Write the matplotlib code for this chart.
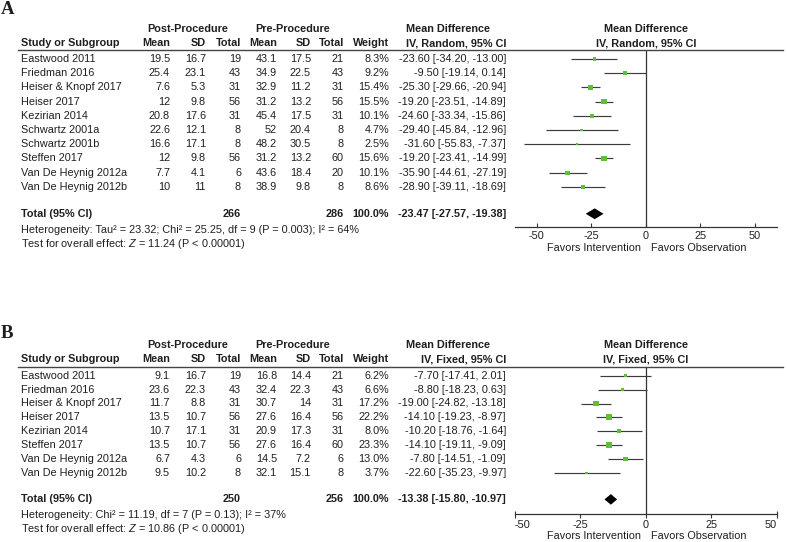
import matplotlib
matplotlib.use("Agg")
import matplotlib.pyplot as plt
from matplotlib.lines import Line2D

plt.rcParams["font.family"] = ["Liberation Sans", "DejaVu Sans"]
plt.rcParams["mathtext.fontset"] = "custom"
plt.rcParams["mathtext.rm"] = "Liberation Sans"
plt.rcParams["mathtext.it"] = "Liberation Sans:italic"
plt.rcParams["axes.unicode_minus"] = False

# Panel A data (random effects)
studies_a = ["Eastwood 2011", "Friedman 2016", "Heiser & Knopf 2017", "Heiser 2017",
             "Kezirian 2014", "Schwartz 2001a", "Schwartz 2001b", "Steffen 2017",
             "Van De Heynig 2012a", "Van De Heynig 2012b"]
post_mean_a = [19.5, 25.4, 7.6, 12, 20.8, 22.6, 16.6, 12, 7.7, 10]
post_sd_a = [16.7, 23.1, 5.3, 9.8, 17.6, 12.1, 17.1, 9.8, 4.1, 11]
post_n_a = [19, 43, 31, 56, 31, 8, 8, 56, 6, 8]
pre_mean_a = [43.1, 34.9, 32.9, 31.2, 45.4, 52, 48.2, 31.2, 43.6, 38.9]
pre_sd_a = [17.5, 22.5, 11.2, 13.2, 17.5, 20.4, 30.5, 13.2, 18.4, 9.8]
pre_n_a = [21, 43, 31, 56, 31, 8, 8, 60, 20, 8]
weight_a = [8.3, 9.2, 15.4, 15.5, 10.1, 4.7, 2.5, 15.6, 10.1, 8.6]
md_a = [-23.60, -9.50, -25.30, -19.20, -24.60, -29.40, -31.60, -19.20, -35.90, -28.90]
lo_a = [-34.20, -19.14, -29.66, -23.51, -33.34, -45.84, -55.83, -23.41, -44.61, -39.11]
hi_a = [-13.00, 0.14, -20.94, -14.89, -15.86, -12.96, -7.37, -14.99, -27.19, -18.69]
total_a = (266, 286, -23.47, -27.57, -19.38)
het_a = "Heterogeneity: Tau² = 23.32; Chi² = 25.25, df = 9 (P = 0.003); I² = 64%"
test_a = "Test for overall effect: $Z$ = 11.24 (P < 0.00001)"

# Panel B data (fixed effect)
studies_b = ["Eastwood 2011", "Friedman 2016", "Heiser & Knopf 2017", "Heiser 2017",
             "Kezirian 2014", "Steffen 2017", "Van De Heynig 2012a", "Van De Heynig 2012b"]
post_mean_b = [9.1, 23.6, 11.7, 13.5, 10.7, 13.5, 6.7, 9.5]
post_sd_b = [16.7, 22.3, 8.8, 10.7, 17.1, 10.7, 4.3, 10.2]
post_n_b = [19, 43, 31, 56, 31, 56, 6, 8]
pre_mean_b = [16.8, 32.4, 30.7, 27.6, 20.9, 27.6, 14.5, 32.1]
pre_sd_b = [14.4, 22.3, 14, 16.4, 17.3, 16.4, 7.2, 15.1]
pre_n_b = [21, 43, 31, 56, 31, 60, 6, 8]
weight_b = [6.2, 6.6, 17.2, 22.2, 8.0, 23.3, 13.0, 3.7]
md_b = [-7.70, -8.80, -19.00, -14.10, -10.20, -14.10, -7.80, -22.60]
lo_b = [-17.41, -18.23, -24.82, -19.23, -18.76, -19.11, -14.51, -35.23]
hi_b = [2.01, 0.63, -13.18, -8.97, -1.64, -9.09, -1.09, -9.97]
total_b = (250, 256, -13.38, -15.80, -10.97)
het_b = "Heterogeneity: Chi² = 11.19, df = 7 (P = 0.13); I² = 37%"
test_b = "Test for overall effect: $Z$ = 10.86 (P < 0.00001)"

ticks = [-50, -25, 0, 25, 50]

W, H = 787, 542
FS = 7.8
TXT = "#1f1f1f"
GREEN = "#5fbf36"
COLS = [170, 206, 241, 277, 311, 344, 389]
CI_RIGHT = 506

fig = plt.figure(figsize=(W / 100, H / 100), dpi=100)


def put(x, y, s, ha="left", bold=False, size=FS, family=None):
    kw = {}
    if family:
        kw["family"] = family
    fig.text(x / W, 1 - y / H, s, ha=ha, va="center", fontsize=size,
             fontweight="bold" if bold else "normal", color=TXT, **kw)


def num(v):
    return "%g" % v


def panel(letter, ly, h1, h2, line_y, y0, dy, axis_y, xlim, model,
          studies, post_mean, post_sd, post_n, pre_mean, pre_sd, pre_n,
          weight, md, lo, hi, total, het, test, fixed_style):
    put(1, ly, letter, bold=True, size=13.5, family="Liberation Serif")
    put(187.5, h1, "Post-Procedure", ha="center", bold=True)
    put(292.5, h1, "Pre-Procedure", ha="center", bold=True)
    put(447.5, h1, "Mean Difference", ha="center", bold=True)
    put(646, h1, "Mean Difference", ha="center", bold=True)
    put(21, h2, "Study or Subgroup", bold=True)
    for x, s in zip(COLS, ["Mean", "SD", "Total", "Mean", "SD", "Total", "Weight"]):
        put(x, h2, s, ha="right", bold=True)
    put(CI_RIGHT, h2, "IV, %s, 95%% CI" % model, ha="right", bold=True)
    put(646, h2, "IV, %s, 95%% CI" % model, ha="center", bold=True)
    fig.add_artist(Line2D([18 / W, 783 / W], [1 - line_y / H] * 2,
                          color="#444444", lw=1.0))

    n = len(studies)
    for i in range(n):
        y = y0 + dy * i
        put(21, y, studies[i])
        vals = [num(post_mean[i]), num(post_sd[i]), str(post_n[i]),
                num(pre_mean[i]), num(pre_sd[i]), str(pre_n[i]), "%.1f%%" % weight[i]]
        for x, s in zip(COLS, vals):
            put(x, y, s, ha="right")
        put(CI_RIGHT, y, "%.2f [%.2f, %.2f]" % (md[i], lo[i], hi[i]), ha="right")

    trow = n + 0.9
    ty = y0 + dy * trow
    put(21, ty, "Total (95% CI)", bold=True)
    put(COLS[2], ty, str(total[0]), ha="right", bold=True)
    put(COLS[5], ty, str(total[1]), ha="right", bold=True)
    put(COLS[6], ty, "100.0%", ha="right", bold=True)
    put(CI_RIGHT, ty, "%.2f [%.2f, %.2f]" % total[2:], ha="right", bold=True)
    put(21, ty + 16, het)
    put(21, ty + 30, test)

    # forest plot
    ax = fig.add_axes([515 / W, 1 - axis_y / H, (776.7 - 515) / W, (axis_y - line_y) / H])
    ax.patch.set_alpha(0)
    ax.set_xlim(*xlim)
    ax.set_ylim((axis_y - y0) / dy, (line_y - y0) / dy)
    rows = list(range(n))
    ax.hlines(rows, lo, hi, color="#3c3c3c", lw=0.85, zorder=2)
    sizes = [(max(1.3 * w ** 0.5, 2.6) / 1.389) ** 2 for w in weight]
    ax.scatter(md, rows, s=sizes, marker="s", color=GREEN, linewidths=0, zorder=3)
    ax.fill([total[3], total[2], total[4], total[2]],
            [trow, trow - 0.38, trow, trow + 0.38], color="black", lw=0, zorder=3)
    ax.axvline(0, color="#333333", lw=0.9, zorder=1)
    for s in ["top", "left", "right"]:
        ax.spines[s].set_visible(False)
    ax.spines["bottom"].set_color("#333333")
    ax.spines["bottom"].set_linewidth(0.9)
    ax.set_yticks([])
    ax.set_xticks(ticks)
    ax.set_xticklabels([str(t) for t in ticks])
    if fixed_style:
        ax.tick_params(axis="x", direction="out", length=3, width=0.8,
                       color="#333333", labelsize=FS, labelcolor=TXT, pad=0.8)
        ax.xaxis.remove_overlapping_locs = False
        ax.set_xticks([ticks[0], ticks[-1]], minor=True)
        ax.tick_params(axis="x", which="minor", direction="in", length=2.5,
                       width=0.8, color="#333333")
        labels = ax.get_xticklabels()
        labels[0].set_ha("left")
        labels[-1].set_ha("right")
    else:
        ax.tick_params(axis="x", direction="in", length=3, width=0.8,
                       color="#333333", labelsize=FS, labelcolor=TXT, pad=2.5)
    fy = axis_y + 20.5 if not fixed_style else axis_y + 22
    put(640.7, fy, "Favors Intervention", ha="right")
    put(650.7, fy, "Favors Observation")


panel("A", 10, 29, 43, 50, 59, 14.2, 227.3, (-60, 60), "Random",
      studies_a, post_mean_a, post_sd_a, post_n_a, pre_mean_a, pre_sd_a, pre_n_a,
      weight_a, md_a, lo_a, hi_a, total_a, het_a, test_a, False)
panel("B", 334, 345, 359.3, 366.7, 375.7, 13.9, 514.3, (-50, 50), "Fixed",
      studies_b, post_mean_b, post_sd_b, post_n_b, pre_mean_b, pre_sd_b, pre_n_b,
      weight_b, md_b, lo_b, hi_b, total_b, het_b, test_b, True)

fig.savefig("out.png", dpi=100)
